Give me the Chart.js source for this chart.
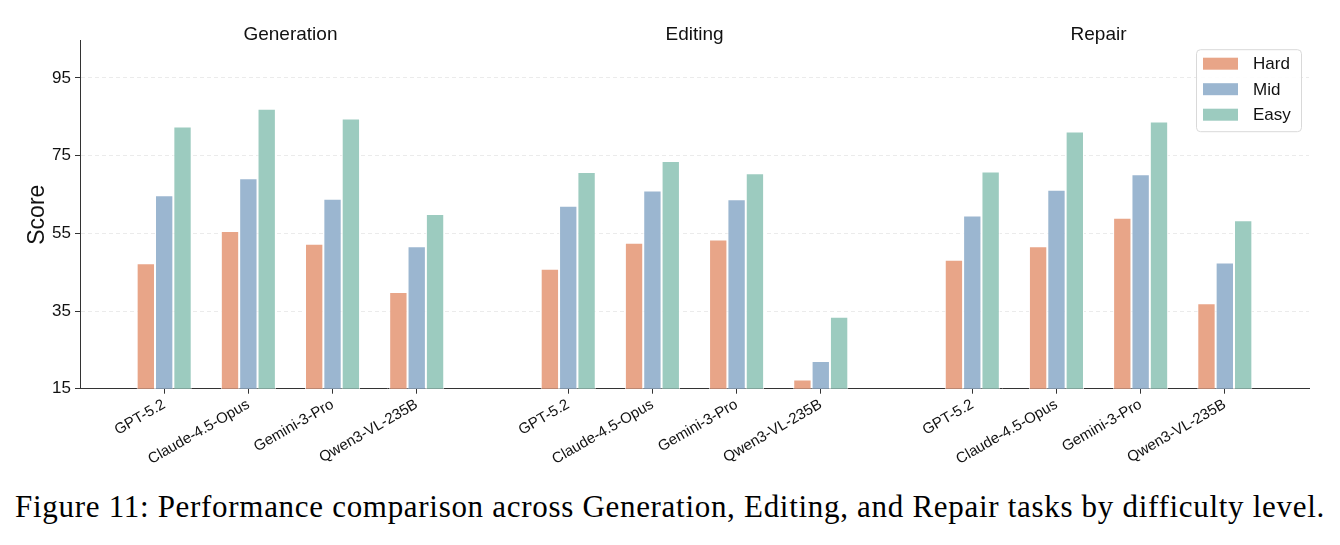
<!DOCTYPE html>
<html>
<head>
<meta charset="utf-8">
<script src="https://cdn.jsdelivr.net/npm/chart.js@4.4.1/dist/chart.umd.min.js"></script>
<style>
  html, body { margin: 0; padding: 0; background: #fff; }
  #wrap { position: relative; width: 1340px; height: 545px; }
  #chart { position: absolute; left: 0; top: 0; }
  #caption {
    position: absolute; left: 0; top: 487px; width: 1340px;
    text-align: center; font-family: "Liberation Serif", serif;
    font-size: 31px; letter-spacing: 0.7px; line-height: 40px; color: #000;
    white-space: nowrap;
  }
</style>
</head>
<body>
<div id="wrap">
  <canvas id="chart" width="1340" height="470"></canvas>
  <div id="caption">Figure 11: Performance comparison across Generation, Editing, and Repair tasks by difficulty level.</div>
</div>
<script>
const tasks = ["Generation", "Editing", "Repair"];
const models = ["GPT-5.2", "Claude-4.5-Opus", "Gemini-3-Pro", "Qwen3-VL-235B"];
const levels = ["Hard", "Mid", "Easy"];

// scores, task by task (Generation, Editing, Repair), models in the order above
const hardScores = [47.3, 55.6, 52.3, 39.9,  45.9, 52.6, 53.4, 17.4,  48.2, 51.7, 59.0, 37.0];
const midScores  = [64.8, 69.2, 63.9, 51.7,  62.1, 66.0, 63.8, 22.1,  59.6, 66.2, 70.2, 47.5];
const easyScores = [82.5, 87.1, 84.6, 60.0,  70.8, 73.6, 70.5, 33.5,  70.9, 81.2, 83.8, 58.4];

const yTicks = [15, 35, 55, 75, 95];

const levelColors = ["#E8A588", "#9BB6D0", "#9CCBBF"];
const groupGap = 0.8;

// x slot of every bar group: models side by side, extra gap between tasks
const slots = [];
const xLabels = [];
tasks.forEach((t, ti) => {
  models.forEach((m, mi) => {
    slots.push(ti * (models.length + groupGap) + mi);
    xLabels.push(m);
  });
});

const series = [hardScores, midScores, easyScores];
const datasets = levels.map((lv, i) => ({
  label: lv,
  data: series[i].map((v, k) => ({ x: slots[k], y: v })),
  backgroundColor: levelColors[i],
  borderColor: "#ffffff",
  borderWidth: 1,
  borderSkipped: "start",
  categoryPercentage: 0.654,
  barPercentage: 1.0
}));

const fontFamily = "'Liberation Sans', Arial, sans-serif";

const taskTitles = {
  id: "taskTitles",
  afterDraw(chart) {
    const ctx = chart.ctx;
    const x = chart.scales.x;
    ctx.save();
    ctx.font = "19px " + fontFamily;
    ctx.fillStyle = "#111";
    ctx.textAlign = "center";
    ctx.textBaseline = "alphabetic";
    tasks.forEach((t, ti) => {
      const first = slots[ti * models.length];
      const last = slots[ti * models.length + models.length - 1];
      ctx.fillText(t, x.getPixelForValue((first + last) / 2), chart.chartArea.top - 1);
    });
    ctx.restore();
  }
};

const boxLegend = {
  id: "boxLegend",
  afterDraw(chart) {
    const ctx = chart.ctx;
    const area = chart.chartArea;
    const w = 105, h = 82;
    const left = area.right - 8 - w;
    const top = area.top + 8.5;
    ctx.save();
    ctx.fillStyle = "rgba(255,255,255,0.9)";
    ctx.strokeStyle = "#d9d9d9";
    ctx.lineWidth = 1;
    ctx.beginPath();
    ctx.roundRect(left + 0.5, top + 0.5, w, h, 4);
    ctx.fill();
    ctx.stroke();
    ctx.font = "17px " + fontFamily;
    ctx.textBaseline = "middle";
    ctx.textAlign = "left";
    chart.data.datasets.forEach((ds, i) => {
      const cy = top + 14.5 + i * 25.5;
      ctx.fillStyle = ds.backgroundColor;
      ctx.fillRect(left + 7, cy - 6, 35, 12);
      ctx.fillStyle = "#111";
      ctx.fillText(ds.label, left + 57, cy + 1);
    });
    ctx.restore();
  }
};

new Chart(document.getElementById("chart"), {
  type: "bar",
  data: { datasets },
  options: {
    responsive: false,
    animation: false,
    devicePixelRatio: 1,
    layout: { padding: { top: 40.7, right: 31, left: 0, bottom: 0 } },
    plugins: {
      legend: { display: false },
      tooltip: { enabled: false }
    },
    scales: {
      x: {
        type: "linear",
        min: -1.0,
        max: 13.6,
        offset: false,
        afterFit(scale) { scale.height = 470 - 388.7; },
        afterBuildTicks(scale) { scale.ticks = slots.map(v => ({ value: v })); },
        grid: { display: true, offset: false, drawOnChartArea: false, drawTicks: true,
                tickLength: 5, tickColor: "#333", tickWidth: 1 },
        border: { display: true, color: "#333", width: 1 },
        ticks: {
          autoSkip: false,
          minRotation: 30,
          maxRotation: 30,
          padding: 2,
          color: "#111",
          font: { family: fontFamily, size: 15 },
          callback: (v, i) => xLabels[i]
        }
      },
      y: {
        min: 15,
        max: 104.6,
        afterFit(scale) { scale.width = 80; },
        afterBuildTicks(scale) { scale.ticks = yTicks.map(v => ({ value: v })); },
        grid: { color: "rgba(0,0,0,0.08)", tickColor: "#333", tickLength: 5, lineWidth: 1 },
        border: { display: true, color: "#333", width: 1, dash: [4, 3] },
        ticks: {
          padding: 4,
          color: "#111",
          font: { family: fontFamily, size: 17 }
        },
        title: {
          display: true,
          text: "Score",
          color: "#111",
          font: { family: fontFamily, size: 23 },
          padding: { top: 24, bottom: 0 }
        }
      }
    }
  },
  plugins: [taskTitles, boxLegend]
});
</script>
</body>
</html>
